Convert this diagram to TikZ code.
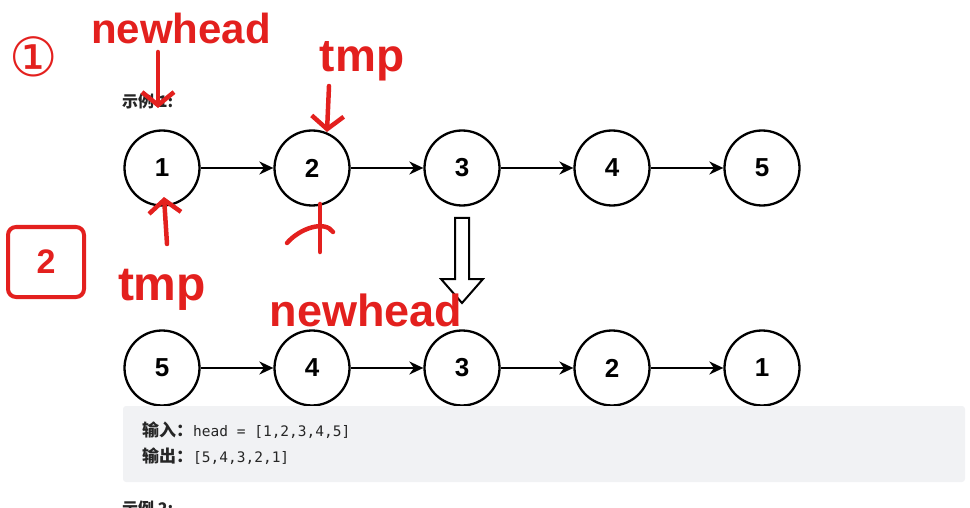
\documentclass[tikz,border=0pt]{standalone}
\usepackage{fontspec}
\setmainfont{Liberation Sans}
\setmonofont{DejaVu Sans Mono}
\newfontfamily\cjk{Noto Sans CJK SC}
\newfontfamily\symb{DejaVu Sans}
\usepackage{tikz}
\usetikzlibrary{arrows.meta, positioning}

\definecolor{ink}{HTML}{E3201E}
\definecolor{codebg}{HTML}{F1F2F4}
\definecolor{txt}{HTML}{262626}

\begin{document}
\begin{tikzpicture}[x=1pt, y=-1pt,
    elem/.style={circle, draw, line width=2.3pt, minimum size=75pt, inner sep=0pt,
                 font=\fontsize{26}{30}\selectfont\bfseries},
    link/.style={-{Stealth[length=14pt, width=13pt]}, line width=2pt},
    pen/.style={ink, line width=4.5pt, line cap=round, line join=round},
    penarrow/.style={pen, -{Straight Barb[length=13pt, width=32pt]}},
    scribble/.style={text=ink, inner sep=0pt},
    codeline/.style={anchor=base west, inner sep=0pt, text=txt}]
    \useasboundingbox (0,0) rectangle (970,508);
    \clip (0,0) rectangle (970,508);

    % list before
    \node[anchor=west, inner sep=0pt, text=txt, font=\cjk\bfseries\fontsize{16}{18}\selectfont] (ex1) at (122,101) {示例 1:};
    \foreach \v [count=\i] in {1,2,3,4,5}
        \node[elem] (a\i) at (12+150*\i,168) {\v};
    \foreach \i [evaluate=\i as \j using int(\i+1)] in {1,...,4}
        \draw[link] (a\i) -- (a\j);

    % hollow arrow
    \draw[line width=2pt, line join=miter, fill=white]
        (455,218) -- (469,218) -- (469,279) -- (483,279) -- (462,303)
        -- (441,279) -- (455,279) -- cycle;

    % list after
    \foreach \v [count=\i] in {5,4,3,2,1}
        \node[elem] (b\i) at (12+150*\i,368) {\v};
    \foreach \i [evaluate=\i as \j using int(\i+1)] in {1,...,4}
        \draw[link] (b\i) -- (b\j);

    % input / output box
    \fill[codebg, rounded corners=3pt] (123,406) rectangle (965,482);
    \node[codeline] (inp) at (142,436)
        {{\cjk\bfseries\fontsize{17}{18}\selectfont 输入：}\ttfamily\fontsize{14.5}{18}\selectfont head = [1,2,3,4,5]};
    \node[codeline] (outp) at (142,462)
        {{\cjk\bfseries\fontsize{17}{18}\selectfont 输出：}\ttfamily\fontsize{14.5}{18}\selectfont [5,4,3,2,1]};
    \node[anchor=north west, inner sep=0pt, text=txt, font=\cjk\bfseries\fontsize{16}{18}\selectfont] (ex2) at (122,501) {示例 2:};

    % red notes, step 1
    \node[scribble, font=\symb\fontsize{54}{60}\selectfont] (s1) at (34,57) {①};
    \node[scribble, anchor=base, font=\bfseries\fontsize{42}{48}\selectfont] (nh1) at (181,44) {newhead};
    \node[scribble, anchor=base, font=\bfseries\fontsize{46}{50}\selectfont] (tmp1) at (362,72) {tmp};
    \coordinate (p1) at (158,52);
    \coordinate (q1) at (158,108);
    \coordinate (p2) at (329,86);
    \coordinate (q2) at (327,132);
    \draw[penarrow] (p1) -- (q1);
    \draw[penarrow] (p2) -- (q2);

    % red notes, step 2
    \node[scribble, draw=ink, line width=4pt, rounded corners=8pt, minimum width=76pt, minimum height=70pt,
          font=\bfseries\fontsize{34}{40}\selectfont] (s2) at (46,262) {2};
    \node[scribble, anchor=base, font=\bfseries\fontsize{48}{52}\selectfont] (tmp2) at (162,300) {tmp};
    \node[scribble, anchor=base, font=\bfseries\fontsize{45}{50}\selectfont] (nh2) at (366,326) {newhead};
    \coordinate (p3) at (167,244);
    \coordinate (q3) at (164,197);
    \draw[penarrow] (p3) -- (q3);
    \coordinate (p4) at (320,252);
    \coordinate (q4) at (320,204);
    \draw[pen] (p4) -- (q4);
    \draw[pen] (287,243) .. controls (300,228) and (325,220) .. (333,232);
\end{tikzpicture}
\end{document}
